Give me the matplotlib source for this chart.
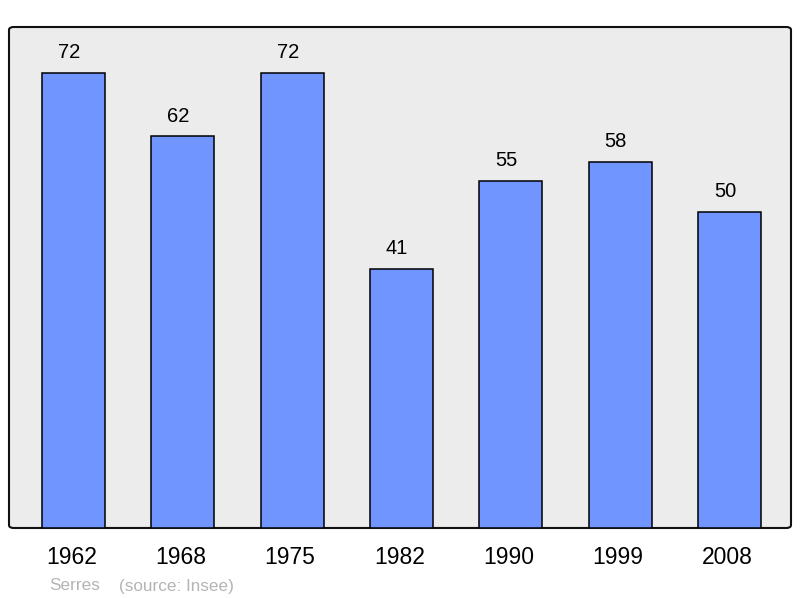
import matplotlib.pyplot as plt
from matplotlib.patches import FancyBboxPatch

plt.rcParams["font.family"] = ["Liberation Sans", "DejaVu Sans"]

years = ["1962", "1968", "1975", "1982", "1990", "1999", "2008"]
population = [72, 62, 72, 41, 55, 58, 50]

fig = plt.figure(figsize=(8, 5.98), dpi=100)
ax = fig.add_axes([9 / 800, 70 / 598, 782 / 800, 501 / 598])

x = list(range(len(years)))
bars = ax.bar(x, population, width=0.576, color="#7095ff", edgecolor="black",
              linewidth=1.1, zorder=3)

# value labels sit a little left of the bar centre, as in the original
for bar, v in zip(bars, population):
    ax.annotate(str(v), (bar.get_x() + bar.get_width() / 2, v),
                xytext=(-3.2, 14.5), textcoords="offset points",
                ha="center", va="center", fontsize=14.5, zorder=4)

ax.set_xlim(-0.59, 6.5625)
ax.set_ylim(0, 79.3)
ax.patch.set_visible(False)
for s in ax.spines.values():
    s.set_visible(False)
ax.set_yticks([])
ax.set_xticks([i - 0.02 for i in x])
ax.set_xticklabels(years, fontsize=16.5)
ax.tick_params(axis="x", length=0, pad=13)

frame = FancyBboxPatch((0, 0), 1, 1, boxstyle="round,pad=0,rounding_size=0.006",
                       transform=ax.transAxes, facecolor="#ececec",
                       edgecolor="#111111", linewidth=1.5, zorder=1, clip_on=False)
ax.add_patch(frame)

fig.text(49 / 800, 1 - 586 / 598, "Serres", color="#b4b4b4", fontsize=12.3, va="center")
fig.text(119 / 800, 1 - 586 / 598, "(source: Insee)", color="#b4b4b4", fontsize=12.3, va="center")

fig.savefig("out.png", dpi=100)
